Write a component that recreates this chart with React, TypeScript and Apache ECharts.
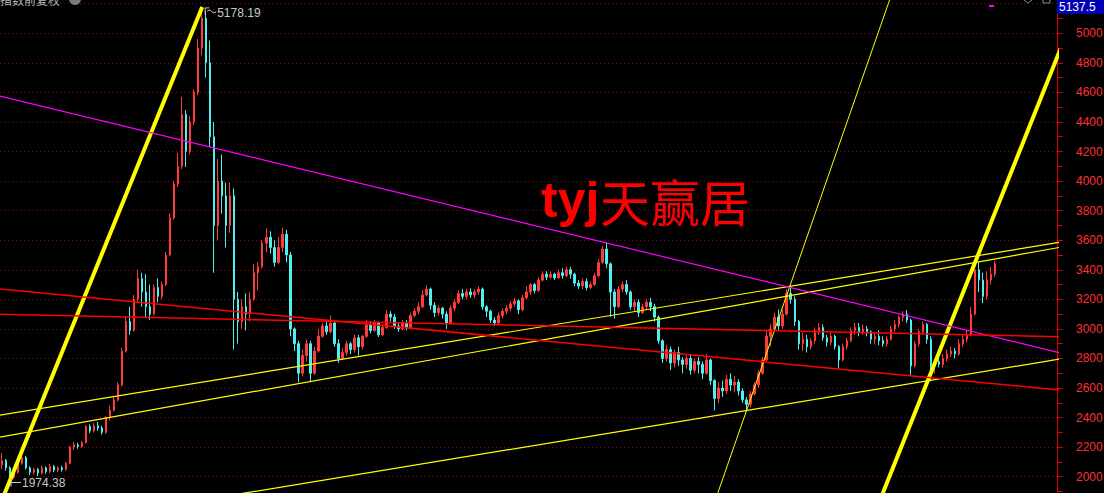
import React, { useEffect, useRef } from "react";
import * as echarts from "echarts";

// Shanghai Composite, one candle every few sessions: [open, close, low, high]
const candles: number[][] = [
  [2080, 2110, 2050, 2160], [2110, 2060, 2040, 2120], [2060, 1995, 1974.38, 2070], [1995, 2030, 1985, 2040],
  [2030, 2090, 2020, 2100], [2090, 2130, 2080, 2150], [2130, 2060, 2050, 2140], [2060, 2030, 2010, 2070],
  [2030, 2050, 2015, 2060], [2050, 2025, 2005, 2060], [2025, 2060, 2015, 2075], [2060, 2035, 2020, 2070],
  [2035, 2070, 2025, 2085], [2070, 2045, 2030, 2080], [2045, 2060, 2030, 2070], [2060, 2050, 2035, 2075],
  [2050, 2090, 2040, 2100], [2090, 2200, 2085, 2210], [2200, 2215, 2180, 2235], [2215, 2205, 2190, 2230],
  [2205, 2230, 2195, 2240], [2230, 2340, 2225, 2350], [2340, 2310, 2295, 2355], [2310, 2345, 2300, 2365],
  [2345, 2330, 2310, 2370], [2330, 2300, 2285, 2345], [2300, 2400, 2290, 2410], [2400, 2450, 2380, 2480],
  [2450, 2520, 2440, 2540], [2520, 2620, 2510, 2640], [2620, 2850, 2610, 2870], [2850, 3050, 2840, 3080],
  [3050, 2990, 2960, 3150], [2990, 3200, 2980, 3230], [3200, 3340, 3180, 3400], [3340, 3250, 3150, 3380],
  [3250, 3150, 3080, 3370], [3150, 3100, 3060, 3300], [3100, 3280, 3090, 3300], [3280, 3220, 3180, 3340],
  [3220, 3300, 3200, 3320], [3300, 3500, 3290, 3520], [3500, 3750, 3490, 3780], [3750, 3980, 3740, 4000],
  [3980, 4100, 3960, 4190], [4100, 4450, 4080, 4570], [4450, 4200, 4095, 4480], [4200, 4400, 4180, 4440],
  [4400, 4600, 4380, 4620], [4600, 4900, 4580, 4960], [4900, 5100, 4850, 5178.19], [5100, 4800, 4700, 5150],
  [4800, 4300, 4230, 4950], [4300, 3700, 3380, 4400], [3700, 4000, 3600, 4150], [4000, 3900, 3780, 4180],
  [3900, 3700, 3550, 3990], [3700, 3900, 3650, 3990], [3900, 3200, 2860, 3950], [3200, 3050, 2900, 3250],
  [3050, 3150, 3000, 3200], [3150, 3100, 2990, 3240], [3100, 3200, 3050, 3250], [3200, 3380, 3190, 3440],
  [3380, 3420, 3260, 3450], [3420, 3580, 3410, 3600], [3580, 3620, 3520, 3680], [3620, 3550, 3510, 3660],
  [3550, 3450, 3420, 3600], [3450, 3550, 3440, 3620], [3550, 3640, 3520, 3684], [3640, 3500, 3450, 3670],
  [3500, 3000, 2950, 3520], [3000, 2900, 2850, 3010], [2900, 2700, 2638, 2920], [2700, 2820, 2680, 2860],
  [2820, 2900, 2780, 2930], [2900, 2700, 2639, 2920], [2700, 2850, 2690, 2880], [2850, 2950, 2840, 3000],
  [2950, 3020, 2940, 3040], [3020, 2980, 2960, 3060], [2980, 3040, 2970, 3090], [3040, 2900, 2880, 3050],
  [2900, 2800, 2770, 2930], [2800, 2840, 2790, 2870], [2840, 2900, 2820, 2920], [2900, 2860, 2830, 2910],
  [2860, 2940, 2840, 2960], [2940, 2880, 2820, 2960], [2880, 2950, 2860, 2960], [2950, 3030, 2940, 3060],
  [3030, 2990, 2970, 3050], [2990, 3040, 2980, 3060], [3040, 2960, 2945, 3050], [2960, 3010, 2950, 3030],
  [3010, 3100, 3000, 3130], [3100, 3080, 3050, 3120], [3080, 3020, 3000, 3100], [3020, 3000, 2980, 3040],
  [3000, 3040, 2990, 3060], [3040, 3010, 2990, 3060], [3010, 3090, 3000, 3110], [3090, 3120, 3080, 3140],
  [3120, 3150, 3100, 3180], [3150, 3230, 3140, 3260], [3230, 3270, 3220, 3295], [3270, 3160, 3130, 3280],
  [3160, 3110, 3080, 3180], [3110, 3140, 3090, 3160], [3140, 3100, 3070, 3150], [3100, 3040, 3000, 3120],
  [3040, 3140, 3030, 3160], [3140, 3180, 3120, 3200], [3180, 3240, 3170, 3260], [3240, 3220, 3200, 3270],
  [3220, 3250, 3200, 3270], [3250, 3230, 3210, 3275], [3230, 3250, 3210, 3270], [3250, 3270, 3230, 3290],
  [3270, 3150, 3130, 3280], [3150, 3120, 3080, 3160], [3120, 3060, 3040, 3130], [3060, 3040, 3020, 3080],
  [3040, 3090, 3030, 3110], [3090, 3120, 3070, 3140], [3120, 3140, 3100, 3160], [3140, 3170, 3120, 3190],
  [3170, 3190, 3150, 3210], [3190, 3130, 3100, 3200], [3130, 3210, 3120, 3230], [3210, 3250, 3200, 3290],
  [3250, 3300, 3230, 3310], [3300, 3260, 3240, 3310], [3260, 3330, 3250, 3350], [3330, 3370, 3320, 3390],
  [3370, 3350, 3330, 3390], [3350, 3370, 3340, 3390], [3370, 3345, 3330, 3380], [3345, 3380, 3340, 3400],
  [3380, 3360, 3340, 3410], [3360, 3400, 3350, 3420], [3400, 3370, 3340, 3420], [3370, 3310, 3290, 3380],
  [3310, 3290, 3270, 3330], [3290, 3320, 3270, 3340], [3320, 3280, 3260, 3340], [3280, 3300, 3270, 3320],
  [3300, 3360, 3290, 3380], [3360, 3450, 3350, 3470], [3450, 3540, 3440, 3560], [3540, 3440, 3410, 3587],
  [3440, 3250, 3080, 3450], [3250, 3150, 3070, 3270], [3150, 3270, 3140, 3290], [3270, 3300, 3250, 3320],
  [3300, 3250, 3230, 3330], [3250, 3150, 3130, 3260], [3150, 3180, 3120, 3200], [3180, 3110, 3080, 3200],
  [3110, 3150, 3100, 3170], [3150, 3180, 3130, 3200], [3180, 3150, 3120, 3210], [3150, 3080, 3050, 3170],
  [3080, 2920, 2900, 3090], [2920, 2800, 2770, 2930], [2800, 2860, 2780, 2890], [2860, 2770, 2720, 2880],
  [2770, 2840, 2740, 2860], [2840, 2790, 2750, 2880], [2790, 2760, 2700, 2810], [2760, 2800, 2730, 2820],
  [2800, 2720, 2690, 2830], [2720, 2780, 2700, 2800], [2780, 2760, 2700, 2810], [2760, 2700, 2660, 2780],
  [2700, 2790, 2690, 2830], [2790, 2650, 2620, 2800], [2650, 2530, 2449, 2660], [2530, 2600, 2500, 2640],
  [2600, 2580, 2540, 2650], [2580, 2660, 2560, 2690], [2660, 2620, 2580, 2700], [2620, 2640, 2570, 2680],
  [2640, 2580, 2550, 2660], [2580, 2520, 2500, 2600], [2520, 2490, 2440.91, 2540], [2490, 2560, 2470, 2580],
  [2560, 2620, 2550, 2640], [2620, 2700, 2600, 2720], [2700, 2790, 2690, 2810], [2790, 2950, 2780, 2995],
  [2950, 3000, 2880, 3030], [3000, 3080, 2990, 3110], [3080, 3020, 2990, 3130], [3020, 3100, 3000, 3130],
  [3100, 3240, 3090, 3270], [3240, 3200, 3170, 3288], [3200, 3050, 3020, 3220], [3050, 2900, 2860, 3060],
  [2900, 2930, 2850, 2975], [2930, 2880, 2840, 2960], [2880, 2920, 2860, 2940], [2920, 2990, 2900, 3010],
  [2990, 3010, 2960, 3040], [3010, 2940, 2920, 3030], [2940, 2910, 2880, 2960], [2910, 2950, 2890, 2975],
  [2950, 2880, 2860, 2960], [2880, 2790, 2733, 2890], [2790, 2880, 2780, 2900], [2880, 2920, 2860, 2940],
  [2920, 2990, 2910, 3010], [2990, 3010, 2960, 3040], [3010, 2980, 2950, 3040], [2980, 3000, 2960, 3030],
  [3000, 2980, 2950, 3020], [2980, 2930, 2900, 2990], [2930, 2950, 2900, 2970], [2950, 2920, 2890, 2990],
  [2920, 2900, 2880, 2950], [2900, 2930, 2880, 2950], [2930, 3000, 2920, 3020], [3000, 3030, 2980, 3060],
  [3030, 3080, 3010, 3090], [3080, 3100, 3050, 3120], [3100, 3060, 3040, 3127], [3060, 2750, 2685, 3070],
  [2750, 2900, 2740, 2920], [2900, 2980, 2880, 3000], [2980, 3030, 2960, 3050], [3030, 2930, 2900, 3040],
  [2930, 2750, 2646, 2950], [2750, 2780, 2700, 2800], [2780, 2760, 2740, 2820], [2760, 2800, 2740, 2830],
  [2800, 2830, 2780, 2860], [2830, 2850, 2810, 2880], [2850, 2830, 2800, 2870], [2830, 2900, 2820, 2930],
  [2900, 2930, 2880, 2960], [2930, 2960, 2910, 2990], [2960, 3100, 2950, 3150], [3100, 3400, 3090, 3458],
  [3400, 3330, 3250, 3450], [3330, 3220, 3175, 3380], [3220, 3330, 3200, 3390], [3330, 3370, 3300, 3420],
  [3370, 3440, 3350, 3460],
];

// total slots on the time axis (the right part stays empty)
const slotCount = 264;
const slotLabels = Array.from({ length: slotCount }, (_, i) => String(i));

// price axis
const priceMin = 1800;
const priceMax = 5400;
const priceStep = 200;
const lastPriceLabel = "5137.5";

// hand-drawn trend lines: [slot, price] endpoints
const fanLeft = [[-2, 1709], [50, 5178.19]];
const fanRight = [[218, 1754], [266, 5005]];
const fanSteep = [[176, 1674], [224, 5405]];
const channelUpperA = [[-2, 2410.7], [266, 3593.8]];
const channelUpperB = [[-2, 2261.2], [266, 3560.4]];
const channelLower = [[58, 1878], [266, 2803.8]];
const pressureLine = [[-2, 4584.8], [266, 2827.1]];
const supportRed1 = [[-2, 3273.5], [266, 2582]];
const supportRed2 = [[-2, 3099.4], [266, 2946.2]];

const UP = "#ff3b3b";
const DOWN = "#4ff0f0";
const YELLOW = "#ffff00";

function lineSeries(data: number[][], color: string, width: number) {
  return {
    type: "line",
    xAxisIndex: 1,
    yAxisIndex: 0,
    data,
    showSymbol: false,
    symbol: "none",
    clip: true,
    silent: true,
    lineStyle: { color, width },
    z: 5,
  };
}

export default function App() {
  const ref = useRef<HTMLDivElement>(null);

  useEffect(() => {
    const el = ref.current;
    if (!el) return;
    const chart = echarts.init(el, null, { renderer: "svg", width: 1104, height: 493 });

    const option: any = {
      animation: false,
      backgroundColor: "#000000",
      grid: {
        left: 0,
        right: 47,
        top: -25.9,
        bottom: -13.3,
        containLabel: false,
        outerBoundsMode: "none",
      },
      xAxis: [
        { type: "category", data: slotLabels, show: false, boundaryGap: true },
        { type: "value", min: -0.5, max: slotCount - 0.5, show: false },
      ],
      yAxis: {
        type: "value",
        position: "right",
        min: priceMin,
        max: priceMax,
        interval: priceStep,
        axisLine: { show: true, onZero: false, lineStyle: { color: "#d80000", width: 1 } },
        axisTick: { show: true, length: 6, lineStyle: { color: "#d80000" } },
        minorTick: { show: true, splitNumber: 2, length: 6, lineStyle: { color: "#d80000" } },
        axisLabel: {
          color: "#ff3030",
          fontSize: 12,
          fontFamily: "Liberation Sans, Arial, sans-serif",
          margin: 19,
          formatter: (v: number) => (v > 5100 || v < 2000 ? "" : String(v)),
        },
        splitLine: { show: true, lineStyle: { color: "#8c0000", width: 1, type: [1, 3] } },
      },
      series: [
        {
          type: "candlestick",
          xAxisIndex: 0,
          yAxisIndex: 0,
          data: candles,
          barWidth: 2,
          itemStyle: {
            color: UP,
            color0: DOWN,
            borderColor: UP,
            borderColor0: DOWN,
            borderWidth: 1,
          },
          z: 3,
        },
        lineSeries(fanLeft, YELLOW, 4),
        lineSeries(fanRight, YELLOW, 4),
        lineSeries(fanSteep, YELLOW, 1),
        lineSeries(channelUpperA, YELLOW, 1.2),
        lineSeries(channelUpperB, YELLOW, 1.2),
        lineSeries(channelLower, YELLOW, 1.2),
        lineSeries(pressureLine, "#ff00ff", 1.2),
        lineSeries(supportRed1, "#ff0000", 1.5),
        lineSeries(supportRed2, "#ff0000", 1.5),
      ],
    };
    chart.setOption(option);

    // locate the extreme candles for their price notes
    let peakIdx = 0;
    let lowIdx = 0;
    candles.forEach((c, i) => {
      if (c[3] > candles[peakIdx][3]) peakIdx = i;
      if (c[2] < candles[lowIdx][2]) lowIdx = i;
    });
    const peakVal = candles[peakIdx][3];
    const lowVal = candles[lowIdx][2];
    const [px, py] = chart.convertToPixel({ seriesIndex: 1 }, [peakIdx, peakVal]) as number[];
    const [lx, ly] = chart.convertToPixel({ seriesIndex: 1 }, [lowIdx, lowVal]) as number[];

    const noteFont = '12px "Liberation Sans", Arial, sans-serif';
    const grey = "#c8c8c8";

    chart.setOption({
      graphic: [
        // title strip, mostly above the visible area
        { type: "text", x: 0, y: -7, z: 100, style: { text: "指数前复权", fill: "#b4b4b4", font: '12px "Noto Sans CJK SC"' } },
        { type: "circle", z: 100, shape: { cx: 75, cy: -1, r: 6 }, style: { fill: "#7a7a7a" } },
        { type: "rect", z: 100, shape: { x: 989, y: 5, width: 5, height: 2 }, style: { fill: "#ff00ff" } },
        { type: "polyline", z: 100, shape: { points: [[1024, 0], [1028, 3], [1032, 0]] }, style: { stroke: "#8a8a8a", fill: null, lineWidth: 1 } },
        { type: "rect", z: 100, shape: { x: 1043, y: -3, width: 7, height: 6 }, style: { stroke: "#8a8a8a", fill: null, lineWidth: 1 } },
        // current price box
        { type: "rect", z: 100, shape: { x: 1057, y: 0, width: 47, height: 14 }, style: { fill: "#0000b4" } },
        {
          type: "text", x: 1059, y: 7, z: 101,
          style: { text: lastPriceLabel, fill: "#ffffff", font: noteFont, verticalAlign: "middle" },
        },
        // peak note
        { type: "polyline", z: 100, shape: { points: [[px + 3, py + 8], [px + 3, py + 1], [px + 7, py + 1]] }, style: { stroke: grey, fill: null, lineWidth: 1 } },
        { type: "polyline", z: 100, shape: { points: [[px + 5, py + 4], [px + 8, py + 3], [px + 11, py + 6], [px + 14, py + 5]] }, style: { stroke: grey, fill: null, lineWidth: 1 } },
        {
          type: "text", x: px + 15, y: py + 6, z: 100,
          style: { text: peakVal.toFixed(2), fill: grey, font: noteFont, verticalAlign: "middle" },
        },
        // low note
        { type: "polyline", z: 100, shape: { points: [[lx + 1, ly - 2], [lx + 1, ly + 6]] }, style: { stroke: grey, fill: null, lineWidth: 1 } },
        { type: "polyline", z: 100, shape: { points: [[lx + 1, ly + 2], [lx + 11, ly + 2]] }, style: { stroke: grey, fill: null, lineWidth: 1 } },
        {
          type: "text", x: lx + 12, y: ly + 2, z: 100,
          style: { text: lowVal.toFixed(2), fill: grey, font: noteFont, verticalAlign: "middle" },
        },
        // watermark
        {
          type: "text", x: 541, y: 200, z: 100,
          style: { text: "tyj", fill: "#ff0000", font: 'bold 50px "Liberation Sans", Arial, sans-serif', verticalAlign: "middle" },
        },
        {
          type: "text", x: 600, y: 200, z: 100,
          style: { text: "天赢居", fill: "#ff0000", font: '50px "Noto Sans CJK SC"', verticalAlign: "middle" },
        },
      ],
    });

    return () => chart.dispose();
  }, []);

  return (
    <div
      ref={ref}
      style={{ position: "fixed", left: 0, top: 0, width: 1104, height: 493, background: "#000" }}
    />
  );
}
